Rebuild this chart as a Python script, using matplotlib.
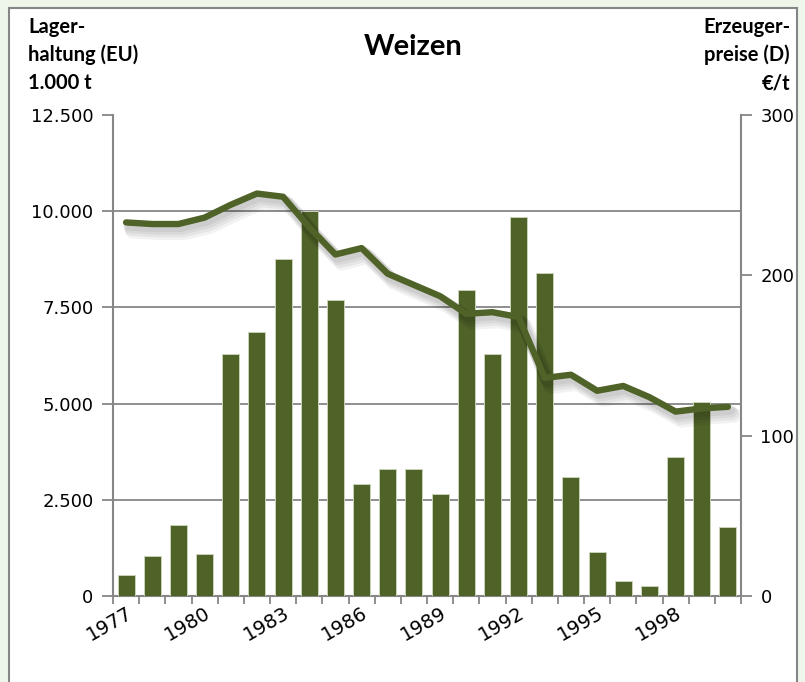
import matplotlib.pyplot as plt
import matplotlib.patheffects as pe
from matplotlib.patches import FancyBboxPatch
import numpy as np

# Jahre 1977-2000
years = list(range(1977, 2001))
# Lagerhaltung (EU) in 1.000 t
stocks = [550, 1050, 1850, 1100, 6300, 6850, 8750, 10000, 7700, 2900, 3300, 3300,
          2650, 7950, 6300, 9850, 8400, 3100, 1150, 380, 270, 3600, 5050, 1800]
# Erzeugerpreise (D) in EUR/t
prices = [233, 232, 232, 236, 244, 251, 249, 230, 213, 217, 201, 194,
          187, 176, 177, 174, 136, 138, 128, 131, 124, 115, 117, 118]

left_ticks = [0, 2500, 5000, 7500, 10000, 12500]
left_labels = ['0', '2.500', '5.000', '7.500', '10.000', '12.500']
right_ticks = [0, 100, 200, 300]

olive = '#4f6228'
grey = '#868686'

fig = plt.figure(figsize=(8.05, 6.82), dpi=100)
fig.patch.set_facecolor('#eef6e9')
box = FancyBboxPatch((9 / 805, -0.05), 788 / 805, 1.05 - 8 / 682,
                     boxstyle='square,pad=0', transform=fig.transFigure,
                     facecolor='white', edgecolor=grey, linewidth=1.5, zorder=-10)
fig.patches.append(box)

ax = fig.add_axes([113 / 805, 1 - 596 / 682, 628 / 805, 481 / 682])
ax.set_facecolor('none')
x = np.arange(len(years))
ax.bar(x, stocks, width=0.65, color=olive, edgecolor='#c9d3b8', linewidth=0.7, zorder=3)
ax.set_xlim(-0.5, len(years) - 0.5)
ax.set_ylim(0, 12500)
ax.set_yticks(left_ticks)
ax.set_yticklabels(left_labels)
for t in left_ticks[1:-1]:
    ax.axhline(t, color=grey, linewidth=1.3, zorder=1)

# Tickstriche an Kategoriegrenzen, Beschriftung alle 3 Jahre
ax.set_xticks(np.arange(len(years) + 1) - 0.5)
ax.set_xticklabels([])
ax.set_xticks(x[::3], minor=True)
ax.set_xticklabels([str(y) for y in years[::3]], minor=True, rotation=30,
                   ha='right', rotation_mode='anchor')
ax.tick_params(axis='x', which='major', length=6, width=1.3, color=grey, direction='out')
ax.tick_params(axis='x', which='minor', length=0, pad=5, labelsize=14)
ax.tick_params(axis='y', length=8, width=1.3, color=grey, labelsize=13, pad=6)
for s in ['top', 'right']:
    ax.spines[s].set_visible(False)
for s in ['left', 'bottom']:
    ax.spines[s].set_color(grey)
    ax.spines[s].set_linewidth(1.5)

ax2 = ax.twinx()
shadow = [pe.SimpleLineShadow(offset=(o, -1.4 * o), shadow_color='#000000',
                              alpha=0.05, linewidth=6 + o) for o in (1.5, 2.5, 3.5, 4.5)]
ax2.plot(x, prices, color=olive, linewidth=4.6, solid_capstyle='round',
         solid_joinstyle='round', path_effects=shadow + [pe.Normal()])
ax2.set_ylim(0, 300)
ax2.set_yticks(right_ticks)
ax2.tick_params(axis='y', length=8, width=1.3, color=grey, labelsize=13, pad=6)
for s in ['top', 'left', 'bottom']:
    ax2.spines[s].set_visible(False)
ax2.spines['right'].set_color(grey)
ax2.spines['right'].set_linewidth(1.5)

fig.text(413 / 805, 1 - 47 / 682, 'Weizen', ha='center', va='center',
         fontsize=21, fontweight='bold', family='Lato')
fig.text(28 / 805, 1 - 55 / 682, 'Lager-\nhaltung (EU)\n1.000 t', ha='left', va='center',
         fontsize=14.5, fontweight='bold', family='Lato', linespacing=1.5)
fig.text(790 / 805, 1 - 55 / 682, 'Erzeuger-\npreise (D)\n€/t', ha='right', va='center',
         fontsize=14.5, fontweight='bold', family='Lato', linespacing=1.5,
         multialignment='right')

fig.savefig('out.png', dpi=100, facecolor=fig.get_facecolor())
